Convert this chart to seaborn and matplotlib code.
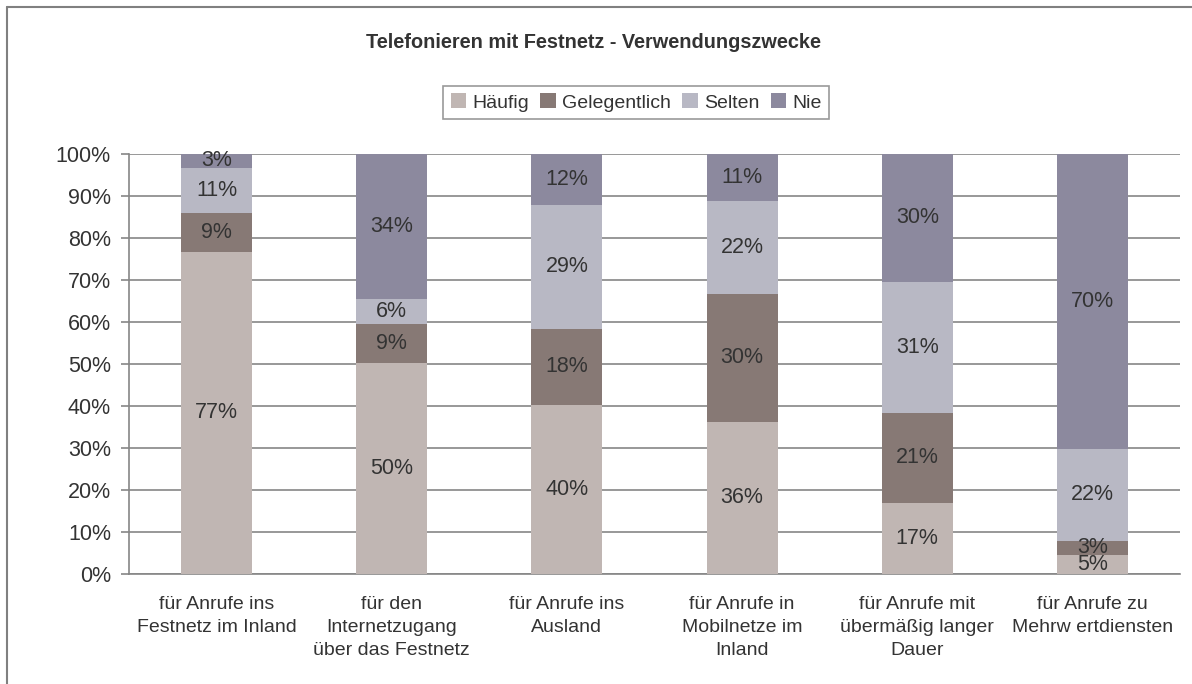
import matplotlib
matplotlib.use("Agg")
import matplotlib.pyplot as plt
from matplotlib.lines import Line2D
from matplotlib.patches import Patch
from matplotlib.ticker import FixedLocator
import seaborn as sns
import numpy as np

categories = [
    "für Anrufe ins\nFestnetz im Inland",
    "für den\nInternetzugang\nüber das Festnetz",
    "für Anrufe ins\nAusland",
    "für Anrufe in\nMobilnetze im\nInland",
    "für Anrufe mit\nübermäßig langer\nDauer",
    "für Anrufe zu\nMehrw ertdiensten",
]
series_names = ["Häufig", "Gelegentlich", "Selten", "Nie"]
haeufig = [76.7, 50.3, 40.3, 36.3, 17.0, 4.6]
gelegentlich = [9.3, 9.3, 18.1, 30.4, 21.4, 3.3]
selten = [10.7, 5.9, 29.4, 22.2, 31.2, 21.9]
nie = [3.3, 34.4, 12.2, 11.1, 30.4, 70.2]
colors = ["#C0B6B3", "#877975", "#B8B8C4", "#8C899E"]
yticks = [0, 10, 20, 30, 40, 50, 60, 70, 80, 90, 100]
title = "Telefonieren mit Festnetz - Verwendungszwecke"

sns.set_style("white")
plt.rcParams["font.family"] = ["Liberation Sans", "DejaVu Sans"]
text_color = "#333333"
grid_color = "#868686"
fs = 15.5
fs_small = 14

fig = plt.figure(figsize=(11.92, 6.84), dpi=100)
ax = fig.add_axes([129 / 1192, 1 - 574 / 684, (1180 - 129) / 1192, (574 - 154) / 684])

series = [haeufig, gelegentlich, selten, nie]
bottom = np.zeros(len(categories))
for name, vals, col in zip(series_names, series, colors):
    vals = np.array(vals, dtype=float)
    sns.barplot(x=list(range(len(categories))), y=vals, bottom=bottom, color=col,
                width=0.405, ax=ax, saturation=1, linewidth=0, native_scale=True, zorder=3)
    cont = ax.containers[-1]
    ax.bar_label(cont, labels=[f"{v:.0f}%" for v in vals], label_type="center",
                 fontsize=fs, color=text_color, zorder=4)
    bottom = bottom + vals

ax.set_xlim(-0.5, len(categories) - 0.5)
ax.set_ylim(0, 100)
ax.set_yticks(yticks)
ax.set_yticklabels([f"{t}%" for t in yticks], fontsize=fs, color=text_color)
ax.yaxis.grid(True, color=grid_color, linewidth=1.2, zorder=0)
ax.set_axisbelow(True)
ax.set_xticks(range(len(categories)))
ax.set_xticklabels(categories, fontsize=fs_small, color=text_color, linespacing=1.45)
ax.xaxis.set_minor_locator(FixedLocator(np.arange(-0.5, len(categories), 1.0)))
ax.tick_params(axis="x", which="major", length=0, pad=16)
ax.tick_params(axis="x", which="minor", length=6, width=1.2, color=grid_color)
ax.tick_params(axis="y", length=6, width=1.2, color=grid_color, pad=7, left=True)
ax.set_xlabel("")
ax.set_ylabel("")
for s in ["top", "right"]:
    ax.spines[s].set_visible(False)
for s in ["left", "bottom"]:
    ax.spines[s].set_color(grid_color)
    ax.spines[s].set_linewidth(1.2)

fig.text(594 / 1192, 1 - 42 / 684, title, ha="center", va="center",
         fontsize=14.3, fontweight="bold", color=text_color)

handles = [Patch(facecolor=c, edgecolor="none", label=n) for n, c in zip(series_names, colors)]
leg = fig.legend(handles=handles, loc="center", bbox_to_anchor=(636 / 1192, 1 - 102.5 / 684),
                 ncol=4, frameon=True, fontsize=fs_small, handlelength=0.8, handleheight=0.8,
                 handletextpad=0.3, columnspacing=0.6, borderpad=0.4, fancybox=False,
                 borderaxespad=0)
leg.get_frame().set_edgecolor("#808080")
leg.get_frame().set_linewidth(1.2)
for t in leg.get_texts():
    t.set_color(text_color)

fig.add_artist(Line2D([7 / 1192, 7 / 1192], [0, 1 - 7 / 684], transform=fig.transFigure,
                      color="#808080", linewidth=1.5))
fig.add_artist(Line2D([7 / 1192, 1], [1 - 7 / 684, 1 - 7 / 684], transform=fig.transFigure,
                      color="#808080", linewidth=1.5))

fig.savefig("out.png", dpi=100, facecolor="white")
